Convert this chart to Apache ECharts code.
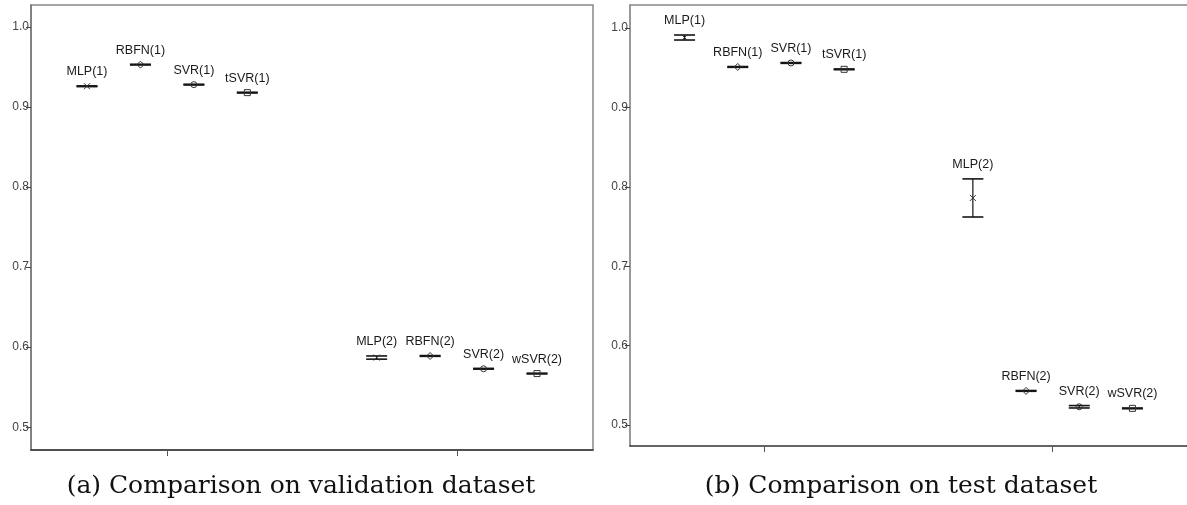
<!DOCTYPE html>
<html>
<head>
<meta charset="utf-8">
<script src="https://cdn.jsdelivr.net/npm/echarts@6/dist/echarts.min.js"></script>
<style>
html,body{margin:0;padding:0;background:#fff;}
#chart{width:1187px;height:505px;}
</style>
</head>
<body>
<div id="chart"></div>
<script>
// ---- data ----
const groupIds = [1, 2];
const methodNames = [
  ['MLP(1)', 'RBFN(1)', 'SVR(1)', 'tSVR(1)'],
  ['MLP(2)', 'RBFN(2)', 'SVR(2)', 'wSVR(2)']
];
const yTicks = [0.5, 0.6, 0.7, 0.8, 0.9, 1.0];

// validation dataset (panel a)
const valMean = [[0.926, 0.953, 0.928, 0.918], [0.587, 0.589, 0.573, 0.567]];
const valLow  = [[0.9255, 0.9525, 0.9275, 0.9175], [0.5850, 0.5885, 0.5725, 0.5665]];
const valHigh = [[0.9265, 0.9535, 0.9285, 0.9185], [0.5890, 0.5895, 0.5735, 0.5675]];

// test dataset (panel b)
const testMean = [[0.988, 0.951, 0.956, 0.948], [0.786, 0.543, 0.523, 0.521]];
const testLow  = [[0.9849, 0.9505, 0.9555, 0.9475], [0.762, 0.5425, 0.5215, 0.5205]];
const testHigh = [[0.9912, 0.9515, 0.9565, 0.9485], [0.810, 0.5435, 0.5245, 0.5215]];

const captions = ['(a) Comparison on validation dataset', '(b) Comparison on test dataset'];

// ---- chart ----
const markerTypes = ['x', 'diamond', 'circle', 'square'];
const slotStep = 0.1845;   // spacing of clustered members in axis units
const ink = '#151515';

function buildData(mean, low, high, slot) {
  return groupIds.map((g, gi) => [g, mean[gi][slot], low[gi][slot], high[gi][slot], methodNames[gi][slot]]);
}

function makeRender(slot) {
  return function (params, api) {
    const gx = api.value(0) + (slot - 1.5) * slotStep;
    const pm = api.coord([gx, api.value(1)]);
    const pl = api.coord([gx, api.value(2)]);
    const ph = api.coord([gx, api.value(3)]);
    const x = pm[0];
    const hw = 10.5;
    const lineStyle = { stroke: ink, lineWidth: 1.6, fill: null };
    const children = [
      { type: 'line', shape: { x1: x, y1: ph[1], x2: x, y2: pl[1] }, style: { stroke: ink, lineWidth: 1.2 } },
      { type: 'line', shape: { x1: x - hw, y1: ph[1], x2: x + hw, y2: ph[1] }, style: lineStyle },
      { type: 'line', shape: { x1: x - hw, y1: pl[1], x2: x + hw, y2: pl[1] }, style: lineStyle }
    ];
    const y = pm[1];
    const ms = { stroke: '#333', lineWidth: 1, fill: 'rgba(255,255,255,0)' };
    const t = markerTypes[slot];
    if (t === 'x') {
      children.push({ type: 'line', shape: { x1: x - 3, y1: y - 3, x2: x + 3, y2: y + 3 }, style: ms });
      children.push({ type: 'line', shape: { x1: x - 3, y1: y + 3, x2: x + 3, y2: y - 3 }, style: ms });
    } else if (t === 'diamond') {
      children.push({ type: 'polygon', shape: { points: [[x, y - 3.5], [x + 3.5, y], [x, y + 3.5], [x - 3.5, y]] }, style: ms });
    } else if (t === 'circle') {
      children.push({ type: 'circle', shape: { cx: x, cy: y, r: 3 }, style: ms });
    } else {
      children.push({ type: 'rect', shape: { x: x - 3, y: y - 3, width: 6, height: 6 }, style: ms });
    }
    children.push({
      type: 'text',
      style: {
        x: x, y: ph[1] - 14, text: api.value(4),
        textAlign: 'center', textVerticalAlign: 'middle',
        font: '12.5px "Liberation Sans", Arial, sans-serif', fill: '#1a1a1a'
      }
    });
    return { type: 'group', children: children };
  };
}

const panels = [
  { mean: valMean, low: valLow, high: valHigh },
  { mean: testMean, low: testLow, high: testHigh }
];

const series = [];
panels.forEach((p, pi) => {
  for (let s = 0; s < 4; s++) {
    series.push({
      type: 'custom',
      xAxisIndex: pi, yAxisIndex: pi,
      renderItem: makeRender(s),
      encode: { x: 0, y: [1, 2, 3] },
      data: buildData(p.mean, p.low, p.high, s),
      clip: false,
      silent: true
    });
  }
});

function yAxis(idx, min, max) {
  return {
    type: 'value', gridIndex: idx, min: min, max: max,
    axisLine: { show: true, lineStyle: { color: '#777', width: 1.5 } },
    axisTick: { show: true, length: 5, customValues: yTicks, lineStyle: { color: '#444', width: 1 } },
    axisLabel: {
      customValues: yTicks, margin: 2, color: '#444',
      fontSize: 12, fontFamily: '"Liberation Sans", Arial, sans-serif',
      formatter: v => Number(v).toFixed(1)
    },
    splitLine: { show: false }
  };
}
function xAxis(idx, min, max) {
  return {
    type: 'value', gridIndex: idx, min: min, max: max,
    axisLine: { show: true, lineStyle: { color: '#333', width: 1.5 } },
    axisTick: { show: true, length: 6, customValues: groupIds, lineStyle: { color: '#555', width: 1 } },
    axisLabel: { show: false },
    splitLine: { show: false }
  };
}
// top frame line for the right panel (no right border there)
const topFrame = {
  type: 'value', gridIndex: 1, position: 'top', min: 0.534, max: 2.466,
  axisLine: { show: true, lineStyle: { color: '#888', width: 1.5 } },
  axisTick: { show: false }, axisLabel: { show: false }, splitLine: { show: false }
};

const option = {
  animation: false,
  backgroundColor: '#fff',
  grid: [
    { left: 31, top: 5, width: 562, height: 445, show: true, borderColor: '#888', borderWidth: 1.5, backgroundColor: '#fff' },
    { left: 630, top: 5, width: 560, height: 441, show: false }
  ],
  xAxis: [xAxis(0, 0.53, 2.47), xAxis(1, 0.534, 2.466), topFrame],
  yAxis: [yAxis(0, 0.4715, 1.0275), yAxis(1, 0.4736, 1.029)],
  series: series,
  graphic: [
    { type: 'text', x: 301, y: 486, style: { text: captions[0], font: '25px "DejaVu Serif", serif', fill: '#111', textAlign: 'center', textVerticalAlign: 'middle' } },
    { type: 'text', x: 901, y: 486, style: { text: captions[1], font: '25px "DejaVu Serif", serif', fill: '#111', textAlign: 'center', textVerticalAlign: 'middle' } }
  ]
};

const chart = echarts.init(document.getElementById('chart'), null, { renderer: 'canvas' });
chart.setOption(option);
</script>
</body>
</html>
